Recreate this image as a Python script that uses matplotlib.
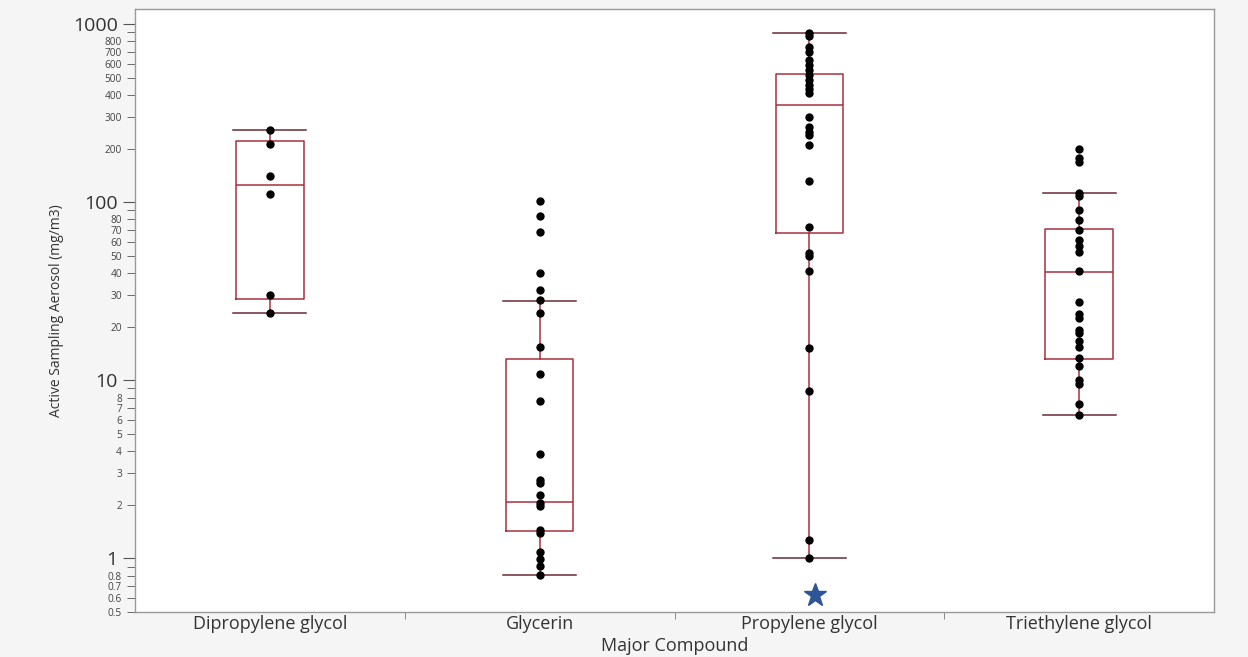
import matplotlib
matplotlib.use('Agg')
import matplotlib.pyplot as plt
import numpy as np
from matplotlib.ticker import FixedLocator, FixedFormatter, NullFormatter

plt.rcParams['font.family'] = ['Open Sans', 'DejaVu Sans']

compounds = ['Dipropylene glycol', 'Glycerin', 'Propylene glycol', 'Triethylene glycol']

dipropylene = [254, 212, 141, 111, 30, 24]
glycerin = [101, 84, 67.6, 40.2, 32, 28.4, 24, 15.3, 10.9, 7.64, 3.86, 2.75, 2.65,
            2.27, 2.05, 1.98, 1.45, 1.38, 1.08, 0.99, 0.91, 0.81]
propylene = [890, 860, 748, 701, 630, 590, 553, 518, 485, 455, 430, 408, 299, 265,
             248, 238, 209, 131, 72.4, 52, 50, 40.9, 15.1, 8.73, 1.27, 1.0]
triethylene = [198, 176, 168, 112, 108, 90, 79, 70, 61, 57, 52.4, 41, 27.6, 23.7,
               22.5, 19.2, 18.5, 16.6, 15.3, 13.3, 12, 10.1, 9.5, 7.4, 6.4]
points = [dipropylene, glycerin, propylene, triethylene]

# box statistics as drawn (quantiles from the original software)
q1 = [28.6, 1.43, 67.3, 13.1]
med = [125, 2.07, 350, 40.4]
q3 = [220, 13.1, 527, 70.5]
whislo = [24, 0.81, 1.0, 6.4]
whishi = [254, 27.7, 890, 112]

star_value = 0.62

fig = plt.figure(figsize=(12.48, 6.57), dpi=100)
fig.patch.set_facecolor('#f5f5f5')
ax = fig.add_axes([135/1248, 45/657, (1214-135)/1248, (612-9)/657])
ax.set_facecolor('white')

red = '#a8303f'
stats = []
for i in range(4):
    stats.append({'q1': q1[i], 'med': med[i], 'q3': q3[i],
                  'whislo': whislo[i], 'whishi': whishi[i], 'fliers': []})
ax.bxp(stats, positions=range(4), widths=0.25, showfliers=False,
       boxprops=dict(color=red, linewidth=1.1),
       medianprops=dict(color=red, linewidth=1.1),
       whiskerprops=dict(color=red, linewidth=1.1),
       capprops=dict(color='#6a2a35', linewidth=1.1), capwidths=0.27)

for i, vals in enumerate(points):
    ax.plot(np.full(len(vals), i), vals, 'o', color='black', markersize=6,
            markeredgewidth=0, zorder=5)

ax.plot(2.02, star_value, marker='*', color='#2f5597', markersize=17,
        linestyle='none', zorder=6)

ax.set_yscale('log')
ax.set_ylim(0.5, 1215)
ax.set_xlim(-0.5, 3.5)

major = [1, 10, 100, 1000]
ax.yaxis.set_major_locator(FixedLocator(major))
ax.yaxis.set_major_formatter(FixedFormatter(['1', '10', '100', '1000']))
minor = [0.5, 0.6, 0.7, 0.8, 0.9] + [2, 3, 4, 5, 6, 7, 8, 9] + \
        [20, 30, 40, 50, 60, 70, 80, 90] + [200, 300, 400, 500, 600, 700, 800, 900]
minor_labels = []
for m in minor:
    s = ('%g' % m)
    minor_labels.append('' if s.replace('0', '').replace('.', '') == '9' else s)
ax.yaxis.set_minor_locator(FixedLocator(minor))
ax.yaxis.set_minor_formatter(FixedFormatter(minor_labels))
ax.tick_params(axis='y', which='major', labelsize=14, length=9, color='#555555',
               labelcolor='#333333')
ax.tick_params(axis='y', which='minor', labelsize=7.3, length=6, color='#555555',
               labelcolor='#444444')

ax.set_xticks(range(4))
ax.set_xticklabels(compounds, fontsize=13, color='#333333')
ax.tick_params(axis='x', which='major', length=0, pad=2)
ax.set_xticks([0.5, 1.5, 2.5], minor=True)
ax.xaxis.set_minor_formatter(NullFormatter())
ax.tick_params(axis='x', which='minor', length=5, color='#777777')

for sp in ax.spines.values():
    sp.set_color('#999999')
    sp.set_linewidth(1.0)

ax.set_xlabel('Major Compound', fontsize=13, color='#333333', labelpad=3)
ax.set_ylabel('Active Sampling Aerosol (mg/m3)', fontsize=10, color='#333333',
              labelpad=6)

fig.savefig('out.png', dpi=100, facecolor=fig.get_facecolor())
